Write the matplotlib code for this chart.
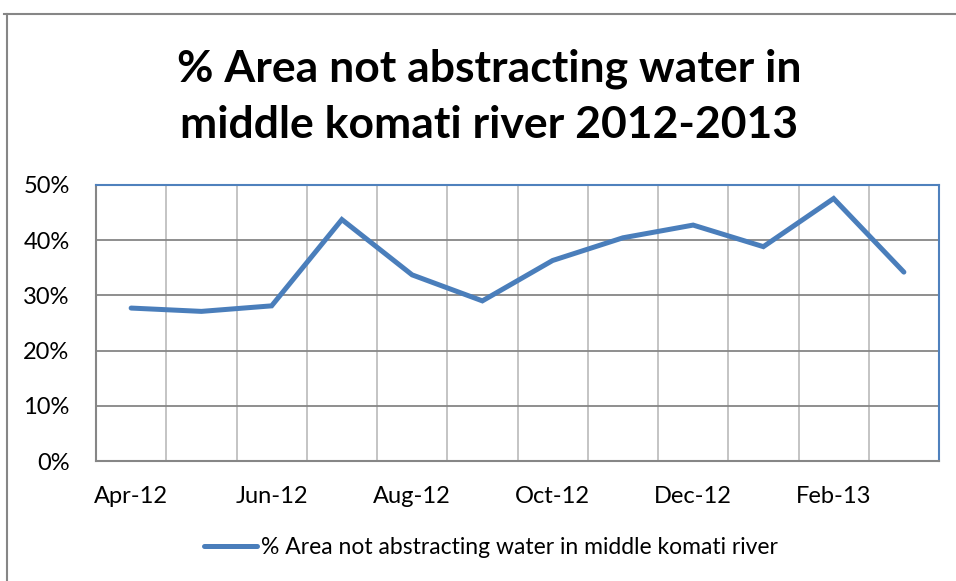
import matplotlib.pyplot as plt
from matplotlib.lines import Line2D
import numpy as np

plt.rcParams['font.family'] = ['Lato', 'DejaVu Sans']

# Data
months = ['Apr-12', 'May-12', 'Jun-12', 'Jul-12', 'Aug-12', 'Sep-12',
          'Oct-12', 'Nov-12', 'Dec-12', 'Jan-13', 'Feb-13', 'Mar-13']
pct_not_abstracting = [27.7, 27.1, 28.1, 43.7, 33.7, 29.0,
                       36.3, 40.4, 42.7, 38.8, 47.5, 34.2]
series_name = '% Area not abstracting water in middle komati river'
title = '% Area not abstracting water in\nmiddle komati river 2012-2013'

fig = plt.figure(figsize=(9.56, 5.81), dpi=100)
ax = fig.add_axes([96 / 956, 1 - 461.3 / 581, (939 - 96) / 956, (461.3 - 184.7) / 581])

x = np.arange(len(months))
ax.plot(x, pct_not_abstracting, color='#4A7EBB', linewidth=3.6,
        solid_capstyle='round', solid_joinstyle='miter', label=series_name, zorder=3)

ax.set_xlim(-0.5, len(months) - 0.5)
ax.set_ylim(0, 50)

# y axis
ax.set_yticks(np.arange(0, 51, 10))
ax.set_yticklabels([f'{v}%' for v in range(0, 51, 10)], fontsize=17)
# x axis: labels every other month, gridlines at category boundaries
ax.set_xticks(x[::2])
ax.set_xticklabels(months[::2], fontsize=17)
ax.set_xticks(np.arange(-0.5, len(months), 1), minor=True)
ax.tick_params(axis='both', which='both', length=0)
ax.tick_params(axis='y', pad=19)
ax.tick_params(axis='x', pad=18)

ax.grid(axis='y', which='major', color='#868686', linewidth=1.3, zorder=1)
ax.grid(axis='x', which='minor', color='#BFBFBF', linewidth=1.3, zorder=1)
ax.grid(axis='x', which='major', visible=False)

for side in ['left', 'bottom']:
    ax.spines[side].set_color('#868686')
    ax.spines[side].set_linewidth(1.5)
for side in ['top', 'right']:
    ax.spines[side].set_color('#4F81BD')
    ax.spines[side].set_linewidth(1.5)

fig.text(489 / 956, 1 - 97 / 581, title, ha='center', va='center',
         fontsize=32, fontweight='bold', linespacing=1.5)

fig.legend(loc='center', bbox_to_anchor=(491 / 956, 1 - 548 / 581), frameon=False,
           fontsize=16.5, handlelength=2.3, handletextpad=0.15)

# chart frame
fig.add_artist(Line2D([4 / 956, 1], [1 - 14 / 581, 1 - 14 / 581], color='#868686', linewidth=1.5))
fig.add_artist(Line2D([7 / 956, 7 / 956], [0, 1 - 14 / 581], color='#868686', linewidth=1.5))

plt.savefig('out.png', dpi=100)
